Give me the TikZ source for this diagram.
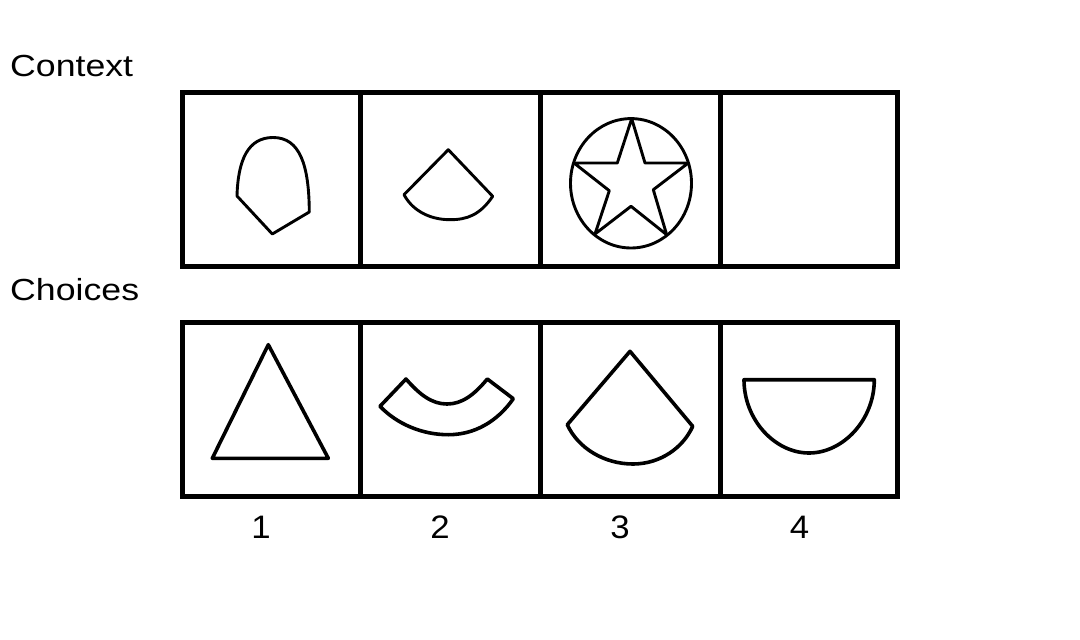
\documentclass[tikz,border=0pt]{standalone}
\usepackage{fontspec}
\setmainfont{Liberation Sans}
\newfontfamily\labfont[FakeStretch=1.17]{Liberation Sans}
\newfontfamily\numfont[FakeStretch=1.07]{Liberation Sans}
\begin{document}
\begin{tikzpicture}[x=1pt,y=-1pt,
  frame/.style={line width=4.8pt},
  shpa/.style={line width=2.9pt,line join=round},
  shpb/.style={line width=3.6pt,line join=round},
  lab/.style={inner sep=0pt,anchor=base west,font=\labfont\fontsize{30.5}{36}\selectfont},
  num/.style={inner sep=0pt,anchor=base,font=\numfont\fontsize{32.5}{38}\selectfont}]
\useasboundingbox (0,0) rectangle (1080,640);
% labels
\node[lab] (ctx) at (10,76) {Context};
\node[lab] (cho) at (10,300.5) {Choices};
% frames
\draw[frame] (182.5,92.5) rectangle (897.5,266.5);
\foreach \x in {360.5,540.5,720.5} \draw[frame] (\x,92.5) -- (\x,266.5);
\draw[frame] (182.5,322.5) rectangle (897.5,496.5);
\foreach \x in {360.5,540.5,720.5} \draw[frame] (\x,322.5) -- (\x,496.5);
% context 1: blob
\draw[shpa] (237,196) .. controls (238,160) and (248,137.5) .. (273,137.5)
  .. controls (300,137.5) and (309,165) .. (309.3,212) -- (272.3,234) -- cycle;
% context 2: sector
\draw[shpa] (448.3,149.7) -- (492.7,196.3) .. controls (480,215) and (467,219.7) .. (450,219.7)
  .. controls (433,219.7) and (414,213) .. (404,194.7) -- cycle;
% context 3: circle with star
\draw[shpa] (631,183.3) ellipse [x radius=60.5, y radius=64.7];
\draw[shpa] (631.7,118.7) -- (645,163) -- (688.3,163) -- (653.3,189.7) -- (666.7,234.7)
  -- (631,206.3) -- (595,234) -- (609.3,190.7) -- (574,163) -- (617.3,163) -- cycle;
% choice 1: triangle
\draw[shpb] (268.3,344.7) -- (328.3,458.3) -- (212.3,458.3) -- cycle;
% choice 2: arc band
\draw[shpb] (406,379) .. controls (420,395) and (432,404) .. (447,404)
  .. controls (462,404) and (474,395) .. (487.3,379) -- (513.3,398.7)
  .. controls (497,422) and (474,434.7) .. (448.3,434.7)
  .. controls (422,434.7) and (397,424) .. (380,406.3) -- cycle;
% choice 3: sector
\draw[shpb] (630,351.3) -- (692.7,426.3) .. controls (683,448) and (660,464) .. (633,464)
  .. controls (604,464) and (578,448) .. (567.3,424.7) -- cycle;
% choice 4: half disc
\draw[shpb] (744,379.7) -- (874.3,379.7) .. controls (874.3,420) and (843,453) .. (809,453)
  .. controls (775,453) and (744,420) .. cycle;
% numbers
\node[num] (n1) at (261,538) {1};
\node[num] (n2) at (440,538) {2};
\node[num] (n3) at (620,538) {3};
\node[num] (n4) at (799.5,538) {4};
\end{tikzpicture}
\end{document}
